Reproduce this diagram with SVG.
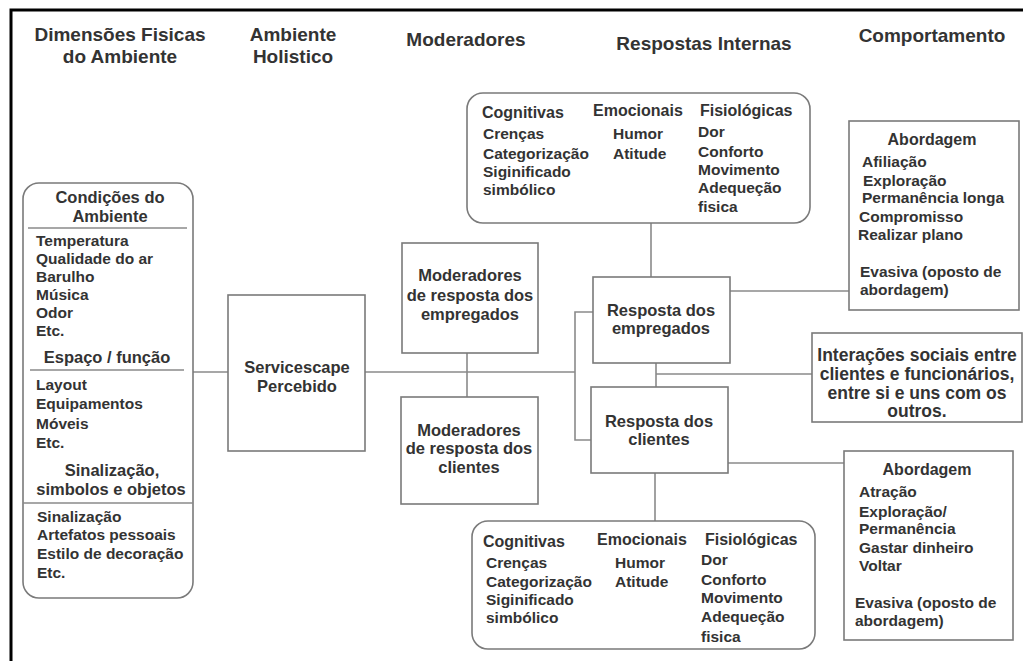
<svg xmlns="http://www.w3.org/2000/svg" width="1023" height="661" viewBox="0 0 1023 661">
<style>
text{font-family:"Liberation Sans",Arial,sans-serif;font-weight:bold;fill:#333}
.h{font-size:19px;text-anchor:middle}
.s{font-size:16.5px}
.c{text-anchor:middle}
.b{font-size:15.5px}
.t{font-size:16px}
.i{font-size:17.5px;text-anchor:middle}
.box{fill:#fff;stroke:#7a7a7a;stroke-width:1.6}
.ln{stroke:#8a8a8a;stroke-width:1.6;fill:none}
.frame{stroke:#000;stroke-width:3;fill:none}
</style>
<rect width="1023" height="661" fill="#fff"/>
<path class="frame" d="M11 661V10H1023"/>
<g id="headers">
<text class="h" x="120" y="41">Dimensões Fisicas</text>
<text class="h" x="120" y="63">do Ambiente</text>
<text class="h" x="293" y="41">Ambiente</text>
<text class="h" x="293" y="63">Holistico</text>
<text class="h" x="466" y="46">Moderadores</text>
<text class="h" x="704" y="50">Respostas Internas</text>
<text class="h" x="932" y="42">Comportamento</text>
</g>
<g id="connectors">
<path class="ln" d="M193 372H228"/>
<path class="ln" d="M365 372H575"/>
<path class="ln" d="M593 312H575V440H591"/>
<path class="ln" d="M467 353V397"/>
<path class="ln" d="M651 223V277"/>
<path class="ln" d="M656 363V387"/>
<path class="ln" d="M656 374H812"/>
<path class="ln" d="M655 473V521"/>
<path class="ln" d="M730 291H849"/>
<path class="ln" d="M728 463H844"/>
</g>
<g id="dimensoes">
<rect class="box" x="23" y="183" width="170" height="415" rx="16"/>
<text class="s c" x="110" y="203">Condições do</text>
<text class="s c" x="110" y="222">Ambiente</text>
<path class="ln" d="M28 228H187"/>
<text class="b" x="36" y="246">Temperatura</text>
<text class="b" x="36" y="264">Qualidade do ar</text>
<text class="b" x="36" y="282">Barulho</text>
<text class="b" x="36" y="300">Música</text>
<text class="b" x="36" y="318">Odor</text>
<text class="b" x="36" y="336">Etc.</text>
<text class="s c" x="107" y="363">Espaço / função</text>
<path class="ln" d="M30 370H184"/>
<text class="b" x="36" y="390">Layout</text>
<text class="b" x="36" y="409">Equipamentos</text>
<text class="b" x="36" y="429">Móveis</text>
<text class="b" x="36" y="448">Etc.</text>
<text class="s c" x="112" y="476">Sinalização,</text>
<text class="s c" x="111" y="495">simbolos e objetos</text>
<path class="ln" d="M23 503H193"/>
<text class="b" x="37" y="522">Sinalização</text>
<text class="b" x="37" y="540">Artefatos pessoais</text>
<text class="b" x="37" y="559">Estilo de decoração</text>
<text class="b" x="37" y="578">Etc.</text>
</g>
<g id="servicescape">
<rect class="box" x="228" y="295" width="137" height="156"/>
<text class="s c" x="297" y="373">Servicescape</text>
<text class="s c" x="297" y="392">Percebido</text>
</g>
<g id="mod-empregados">
<rect class="box" x="402" y="243" width="136" height="110"/>
<text class="s c" x="470" y="281">Moderadores</text>
<text class="s c" x="470" y="301">de resposta dos</text>
<text class="s c" x="470" y="320">empregados</text>
</g>
<g id="mod-clientes">
<rect class="box" x="401" y="397" width="137" height="107"/>
<text class="s c" x="469" y="436">Moderadores</text>
<text class="s c" x="469" y="454">de resposta dos</text>
<text class="s c" x="469" y="473">clientes</text>
</g>
<g id="resp-empregados">
<rect class="box" x="593" y="277" width="137" height="86"/>
<text class="s c" x="661" y="316">Resposta dos</text>
<text class="s c" x="661" y="334">empregados</text>
</g>
<g id="resp-clientes">
<rect class="box" x="591" y="387" width="137" height="86"/>
<text class="s c" x="659" y="427">Resposta dos</text>
<text class="s c" x="659" y="445">clientes</text>
</g>
<g id="internas-empregados">
<rect class="box" x="467" y="93" width="343" height="130" rx="16"/>
<text class="t" x="482" y="118">Cognitivas</text>
<text class="t" x="593" y="116">Emocionais</text>
<text class="t" x="700" y="116">Fisiológicas</text>
<text class="b" x="483" y="139">Crenças</text>
<text class="b" x="483" y="159">Categorização</text>
<text class="b" x="483" y="177">Siginificado</text>
<text class="b" x="483" y="195">simbólico</text>
<text class="b" x="613" y="139">Humor</text>
<text class="b" x="613" y="159">Atitude</text>
<text class="b" x="698" y="137">Dor</text>
<text class="b" x="698" y="157">Conforto</text>
<text class="b" x="698" y="175">Movimento</text>
<text class="b" x="698" y="193">Adequeção</text>
<text class="b" x="698" y="212">fisica</text>
</g>
<g id="internas-clientes">
<rect class="box" x="472" y="521" width="343" height="128" rx="16"/>
<text class="t" x="483" y="547">Cognitivas</text>
<text class="t" x="597" y="545">Emocionais</text>
<text class="t" x="705" y="545">Fisiológicas</text>
<text class="b" x="486" y="568">Crenças</text>
<text class="b" x="486" y="587">Categorização</text>
<text class="b" x="486" y="605">Siginificado</text>
<text class="b" x="486" y="623">simbólico</text>
<text class="b" x="615" y="568">Humor</text>
<text class="b" x="615" y="587">Atitude</text>
<text class="b" x="701" y="565">Dor</text>
<text class="b" x="701" y="585">Conforto</text>
<text class="b" x="701" y="603">Movimento</text>
<text class="b" x="701" y="622">Adequeção</text>
<text class="b" x="701" y="642">fisica</text>
</g>
<g id="abordagem-empregados">
<rect class="box" x="849" y="121" width="170" height="189"/>
<text class="t c" x="932" y="145">Abordagem</text>
<text class="b" x="862" y="167">Afiliação</text>
<text class="b" x="863" y="186">Exploração</text>
<text class="b" x="862" y="203">Permanência longa</text>
<text class="b" x="859" y="222">Compromisso</text>
<text class="b" x="858" y="240">Realizar plano</text>
<text class="b" x="860" y="277">Evasiva (oposto de</text>
<text class="b" x="860" y="295">abordagem)</text>
</g>
<g id="interacoes">
<rect class="box" x="812" y="333" width="210" height="89"/>
<text class="i" x="917" y="361">Interações sociais entre</text>
<text class="i" x="917" y="380">clientes e funcionários,</text>
<text class="i" x="917" y="399">entre si e uns com os</text>
<text class="i" x="917" y="417">outros.</text>
</g>
<g id="abordagem-clientes">
<rect class="box" x="844" y="451" width="169" height="189"/>
<text class="t c" x="927" y="475">Abordagem</text>
<text class="b" x="859" y="497">Atração</text>
<text class="b" x="859" y="517">Exploração/</text>
<text class="b" x="859" y="534">Permanência</text>
<text class="b" x="859" y="553">Gastar dinheiro</text>
<text class="b" x="859" y="571">Voltar</text>
<text class="b" x="855" y="608">Evasiva (oposto de</text>
<text class="b" x="855" y="626">abordagem)</text>
</g>
</svg>
